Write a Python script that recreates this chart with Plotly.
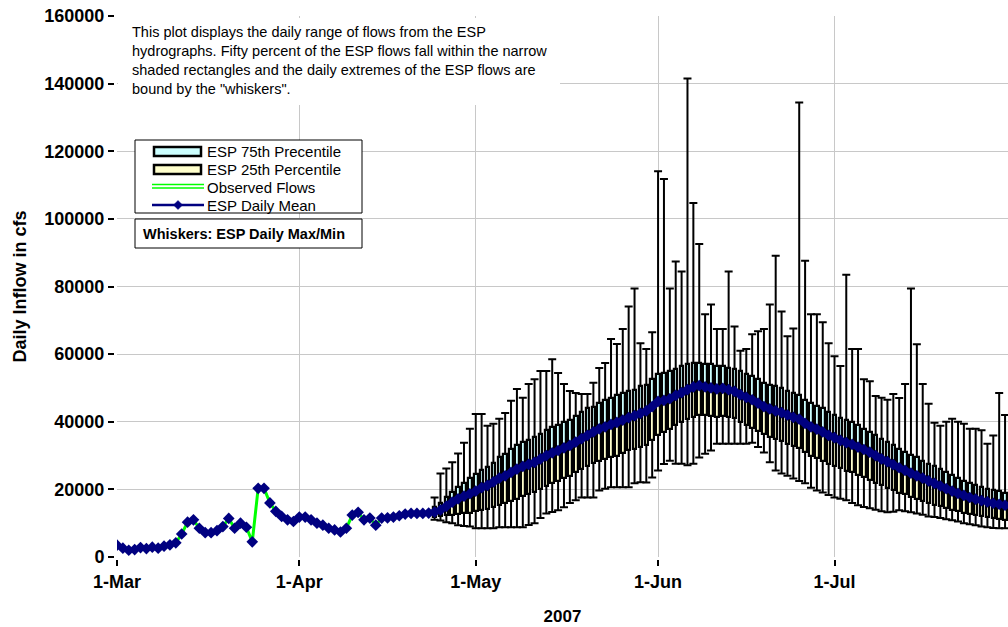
import pandas as pd
import plotly.graph_objects as go

# ---------------- data ----------------
start_date = "2007-03-01"
n_days = 152
dates = list(pd.date_range(start_date, periods=n_days, freq="D"))

# observed flows (Mar 1 .. Apr 23), ESP mean equals observed over this span
observed_flows = [3500, 2600, 2000, 2200, 2800, 2500, 2900, 2600, 3200, 3600,
                  4200, 6800, 10300, 11000, 8500, 7200, 7200, 7800, 9000, 11400,
                  8500, 10000, 8800, 4500, 20300, 20300, 16000, 13500, 12000, 11000,
                  10500, 11800, 11800, 11000, 10000, 9400, 8500, 8000, 7400, 8500,
                  12400, 13200, 11000, 11500, 9400, 11500, 11600, 11800, 12200, 12700,
                  12900, 12900, 12900, 13000]

# ESP forecast statistics (Apr 24 .. Jul 30)
esp_mean_forecast = [13300, 13900, 15000, 16200, 17200, 18000, 18700, 19500, 20500, 21200,
                     22200, 23300, 24000, 25000, 26000, 26800, 27400, 28000, 29000, 30000,
                     30800, 31500, 32300, 33000, 34000, 35000, 36000, 37000, 37900, 38500,
                     39200, 39800, 40500, 41200, 41800, 42500, 43200, 44500, 46000, 46300,
                     46800, 47800, 48600, 49500, 50300, 50700, 50300, 50000, 49700, 49900,
                     49500, 49000, 48000, 47200, 46500, 45500, 44500, 43800, 43200, 42700,
                     42000, 41300, 40800, 39500, 38500, 37800, 37000, 36000, 35300, 34500,
                     33800, 33300, 32500, 31800, 31000, 30000, 29000, 28200, 27300, 26400,
                     25600, 24800, 24000, 23300, 22500, 21800, 21000, 20200, 19500, 18800,
                     18200, 17600, 17100, 16700, 16300, 15900, 15600, 15300]

esp_q75 = [14800, 16000, 17800, 19200, 20600, 22000, 23300, 24500, 25800, 26500,
           27800, 29500, 30500, 32000, 33000, 34000, 34500, 35500, 36500, 37500,
           38500, 39000, 40000, 40500, 41800, 43000, 44000, 44500, 45500, 46500,
           47000, 47800, 48500, 49000, 49500, 50500, 51000, 52500, 54000, 54500,
           55000, 55500, 56500, 57000, 57500, 57500, 57000, 57000, 56500, 56500,
           56000, 55500, 55000, 54000, 53500, 52500, 51500, 51000, 50500, 50000,
           49000, 48500, 48000, 46500, 45500, 44800, 44000, 43000, 42000, 41200,
           40500, 40000, 39000, 38000, 37000, 36000, 35000, 34000, 33000, 32000,
           31000, 30200, 29500, 28500, 27500, 26800, 26000, 25000, 24200, 23300,
           22500, 21800, 21200, 20700, 20200, 19800, 19400, 19000]

esp_q25 = [11800, 12000, 12300, 12500, 12700, 12900, 13100, 13500, 14000, 14300,
           14800, 15500, 16000, 16500, 17300, 18000, 18500, 19200, 20000, 21000,
           21800, 22500, 23300, 24000, 25000, 26000, 27000, 27800, 28500, 29000,
           29500, 30000, 30800, 31500, 32000, 32500, 33200, 34500, 36000, 37000,
           38000, 39000, 40000, 40800, 41500, 42000, 42000, 41800, 41500, 41800,
           41500, 41000, 40000, 39000, 38300, 37300, 36300, 35500, 34800, 34200,
           33500, 32800, 32300, 31000, 30000, 29300, 28500, 27600, 27000, 26200,
           25500, 25000, 24300, 23600, 22800, 22000, 21300, 20500, 19800, 19000,
           18500, 17800, 17200, 16600, 16000, 15500, 15000, 14500, 14000, 13500,
           13000, 12700, 12300, 12000, 11800, 11500, 11300, 11000]

esp_max = [17600, 24700, 26200, 28000, 30600, 33800, 37900, 42300, 42300, 38800,
           39400, 40900, 42600, 46200, 49700, 47100, 51200, 52600, 55000, 55000,
           58500, 54400, 51200, 49100, 48500, 48200, 48200, 51500, 55900, 57400,
           64500, 63000, 67400, 74100, 79400, 63200, 61500, 66500, 114100, 111800,
           79400, 87400, 84400, 141500, 104700, 92600, 71800, 74700, 67400, 67400,
           84400, 68200, 61000, 61500, 65900, 66800, 67400, 74700, 89100, 72600,
           65300, 67600, 134400, 87600, 71800, 71800, 69400, 63200, 59400, 56500,
           83500, 61500, 61500, 52600, 52000, 47600, 47100, 46500, 48200, 47000,
           51200, 79400, 62900, 51200, 45300, 39700, 38800, 40000, 40900, 40000,
           39400, 37900, 37900, 37500, 33500, 35900, 48500, 42000]

esp_min = [11000, 10800, 10300, 10000, 9400, 9200, 9000, 8500, 8500, 8500,
           8500, 8800, 8800, 8800, 8800, 8800, 9500, 10000, 11500, 12900,
           13300, 13800, 14700, 16000, 16800, 17600, 17600, 17600, 19700, 20200,
           20600, 20600, 20600, 20600, 21800, 22100, 22000, 23500, 25600, 27500,
           28500, 27600, 27600, 27100, 27600, 29400, 30500, 31500, 33500, 33500,
           33500, 33500, 33500, 33500, 33800, 32500, 30900, 28000, 25600, 24700,
           24000, 23200, 22500, 21800, 20500, 19700, 19100, 18300, 17600, 17200,
           16800, 16000, 15300, 14800, 14400, 14000, 13500, 13200, 13400, 13800,
           13500, 13200, 12900, 12500, 12000, 11800, 11500, 11200, 10900, 10500,
           10000, 9700, 9400, 9000, 8800, 8600, 8500, 8500]

esp_mean = observed_flows + esp_mean_forecast
obs_dates = dates[:len(observed_flows)]
fc_dates = dates[len(observed_flows):]

# ---------------- layout helpers ----------------
W, H = 1008, 627
ML, MR, MT, MB = 117, 0, 16, 70
PW, PH = W - ML - MR, H - MT - MB


def px(x):
    return (x - ML) / PW


def py(y):
    return (H - MB - y) / PH


FONT = "Liberation Sans, Arial, sans-serif"
NAVY = "#000080"
GREEN = "#00FF00"
CYAN = "#CCFFFF"
YELLOW = "#FFFFCC"

fig = go.Figure()

# whiskers: daily max/min
fig.add_trace(go.Scatter(
    x=fc_dates, y=esp_mean_forecast, mode="markers",
    marker=dict(size=1, color="rgba(0,0,0,0)"),
    error_y=dict(type="data", symmetric=False,
                 array=[mx - m for mx, m in zip(esp_max, esp_mean_forecast)],
                 arrayminus=[m - mn for m, mn in zip(esp_mean_forecast, esp_min)],
                 color="black", thickness=2, width=4),
    showlegend=False, hoverinfo="skip", zorder=0))

bar_w = 0.6 * 86400000
# lower box (25th percentile .. mean)
fig.add_trace(go.Bar(
    x=fc_dates, y=[m - q for m, q in zip(esp_mean_forecast, esp_q25)], base=esp_q25,
    width=bar_w, marker=dict(color=YELLOW, line=dict(color="black", width=2.2)),
    name="ESP 25th Percentile", showlegend=False, zorder=1))
# upper box (mean .. 75th percentile)
fig.add_trace(go.Bar(
    x=fc_dates, y=[q - m for q, m in zip(esp_q75, esp_mean_forecast)], base=esp_mean_forecast,
    width=bar_w, marker=dict(color=CYAN, line=dict(color="black", width=2.2)),
    name="ESP 75th Precentile", showlegend=False, zorder=1))

fig.add_trace(go.Scatter(
    x=obs_dates, y=observed_flows, mode="lines",
    line=dict(color=GREEN, width=3), name="Observed Flows",
    showlegend=False, cliponaxis=False, zorder=2))

fig.add_trace(go.Scatter(
    x=dates, y=esp_mean, mode="markers",
    marker=dict(symbol="diamond", size=9, color=NAVY, line=dict(width=0)),
    name="ESP Daily Mean", showlegend=False, cliponaxis=False, zorder=3))

# ---------------- manual legend & notes ----------------
shapes = []
# white background behind note text
shapes.append(dict(type="rect", xref="paper", yref="paper", x0=px(118), x1=px(560),
                   y0=py(105), y1=py(18), fillcolor="white", line=dict(width=0), layer="above"))
# legend box
shapes.append(dict(type="rect", xref="paper", yref="paper", x0=px(135), x1=px(362),
                   y0=py(213), y1=py(140), fillcolor="white",
                   line=dict(color="black", width=1), layer="above"))
shapes.append(dict(type="rect", xref="paper", yref="paper", x0=px(154), x1=px(201),
                   y0=py(156), y1=py(147), fillcolor=CYAN,
                   line=dict(color="black", width=2.5), layer="above"))
shapes.append(dict(type="rect", xref="paper", yref="paper", x0=px(154), x1=px(201),
                   y0=py(174), y1=py(165), fillcolor=YELLOW,
                   line=dict(color="black", width=2.5), layer="above"))
for gy in (184.5, 188):
    shapes.append(dict(type="line", xref="paper", yref="paper", x0=px(152), x1=px(204),
                       y0=py(gy), y1=py(gy), line=dict(color=GREEN, width=1.5), layer="above"))
shapes.append(dict(type="line", xref="paper", yref="paper", x0=px(152), x1=px(204),
                   y0=py(205), y1=py(205), line=dict(color=NAVY, width=2.5), layer="above"))
cx, cy, r = 178, 205, 4.5
shapes.append(dict(type="path", xref="paper", yref="paper",
                   path=f"M {px(cx)},{py(cy - r)} L {px(cx + r)},{py(cy)} L {px(cx)},{py(cy + r)} L {px(cx - r)},{py(cy)} Z",
                   fillcolor=NAVY, line=dict(color=NAVY, width=0.5), layer="above"))
# whiskers box
shapes.append(dict(type="rect", xref="paper", yref="paper", x0=px(135), x1=px(362),
                   y0=py(248), y1=py(219), fillcolor="white",
                   line=dict(color="black", width=1), layer="above"))

annotations = []
legend_labels = ["ESP 75th Precentile", "ESP 25th Percentile", "Observed Flows", "ESP Daily Mean"]
for lab, ly in zip(legend_labels, (151, 169, 187, 205)):
    annotations.append(dict(xref="paper", yref="paper", x=px(205), y=py(ly), text=lab,
                            showarrow=False, xanchor="left", yanchor="middle",
                            font=dict(family=FONT, size=15, color="black")))
annotations.append(dict(xref="paper", yref="paper", x=px(141), y=py(234),
                        text="<b>Whiskers: ESP Daily Max/Min</b>", showarrow=False,
                        xanchor="left", yanchor="middle",
                        font=dict(family=FONT, size=14.5, color="black")))
note = ("This plot displays the daily range of flows from the ESP<br>"
        "hydrographs. Fifty percent of the ESP flows fall within the narrow<br>"
        "shaded rectangles and the daily extremes of the ESP flows are<br>"
        "bound by the \"whiskers\".")
annotations.append(dict(xref="paper", yref="paper", x=px(130), y=py(22), text=note,
                        showarrow=False, xanchor="left", yanchor="top", align="left",
                        font=dict(family=FONT, size=14.5, color="black")))

fig.update_layout(
    width=W, height=H,
    margin=dict(l=ML, r=MR, t=MT, b=MB, autoexpand=False),
    paper_bgcolor="white", plot_bgcolor="white",
    barmode="overlay", bargap=0,
    showlegend=False,
    shapes=shapes, annotations=annotations,
    xaxis=dict(
        type="date", range=["2007-03-01", "2007-07-30 12:00"],
        tick0="2007-03-01", dtick="M1", tickformat="%-d-%b",
        ticks="outside", ticklen=6, tickwidth=2, tickcolor="black",
        showline=True, linecolor="black", linewidth=3, mirror=True,
        showgrid=True, gridcolor="#c8c8c8", gridwidth=1,
        tickfont=dict(family=FONT, size=18, color="black", weight="bold"),
        title=dict(text="2007", font=dict(family=FONT, size=17, color="black", weight="bold"),
                   standoff=20),
        automargin=False,
    ),
    yaxis=dict(
        range=[0, 160000], dtick=20000, tickformat="d",
        ticks="outside", ticklen=6, tickwidth=2, tickcolor="black",
        showline=True, linecolor="black", linewidth=3,
        showgrid=True, gridcolor="#c8c8c8", gridwidth=1, zeroline=False,
        tickfont=dict(family=FONT, size=18, color="black", weight="bold"),
        title=dict(text="Daily Inflow in cfs",
                   font=dict(family=FONT, size=18, color="black", weight="bold"),
                   standoff=14),
        automargin=False,
    ),
)

fig.write_html("out.html")
